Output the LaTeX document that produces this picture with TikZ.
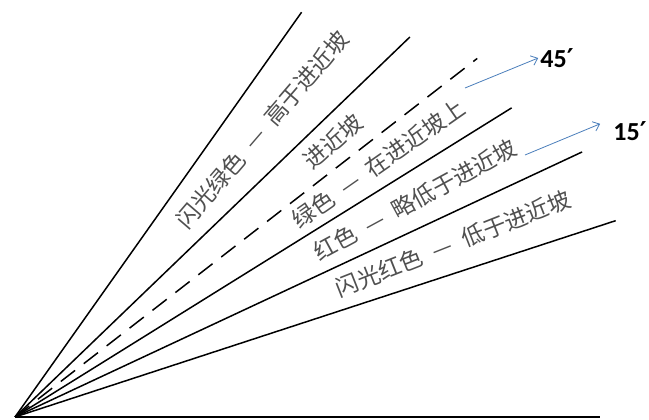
\documentclass[tikz,border=0pt]{standalone}
\usepackage{fontspec}
\newfontfamily\cjk{Noto Sans CJK SC}
\newfontfamily\numfont{Carlito}
\newfontfamily\primefont{DejaVu Sans}
\usetikzlibrary{arrows.meta}
\definecolor{labelgray}{HTML}{505050}
\definecolor{arrowblue}{HTML}{4A7EBB}
\newcommand{\gapdash}{\hspace{0.5em}—\hspace{0.5em}}
\newcommand{\arcmin}{{\primefont\bfseries ′}}
\tikzset{
  ray/.style={line width=1.5pt},
  band/.style={font=\cjk\fontsize{23}{23}\selectfont, text=labelgray, inner sep=0pt},
  minute/.style={font=\numfont\bfseries\fontsize{26}{26}\selectfont, inner sep=2pt},
  pointer/.style={draw=arrowblue, line width=0.8pt, -{Straight Barb[length=6pt,width=10pt]}}
}
\begin{document}
\begin{tikzpicture}[x=1pt,y=1pt]
      \useasboundingbox (-15,-3) rectangle (634,417);
      \path
        (0,0) coordinate (o)
        (54.7:496) coordinate (r1)
        (43.9:548) coordinate (r2)
        (37.8:585) coordinate (r3)
        (31.9:585) coordinate (r4)
        (25.05:626) coordinate (r5)
        (18.1:632) coordinate (r6)
        (0:585) coordinate (r7);
      \begin{scope}[ray]
        \draw (o) to (r1);
        \draw (o) to (r2);
        \draw[dash pattern=on 18pt off 11pt] (o) to (r3);
        \draw (o) to (r4);
        \draw (o) to (r5);
        \draw (o) to (r6);
        \draw (o) to (r7);
      \end{scope}
      \path
        (49.3:379) node[band, rotate=49.3] (l1) {闪光绿色\gapdash 高于进近坡}
        (40.9:421) node[band, rotate=40.9] (l2) {进近坡}
        (34.9:443) node[band, rotate=34.9] (l3) {绿色\gapdash 在进近坡上}
        (28.5:455) node[band, rotate=28.5] (l4) {红色\gapdash 略低于进近坡}
        (21.6:471) node[band, rotate=21.6] (l5) {闪光红色\gapdash 低于进近坡};
      \path
        (542,359) node[minute] (m45) {45\arcmin}
        (615,286) node[minute] (m15) {15\arcmin};
      \coordinate (p45) at (450,329);
      \coordinate (p15) at (510,262);
      \begin{scope}[pointer]
        \draw (p45) to (m45.west);
        \draw[shorten >=12pt] (p15) to (m15.north west);
      \end{scope}
    \end{tikzpicture}
\end{document}
